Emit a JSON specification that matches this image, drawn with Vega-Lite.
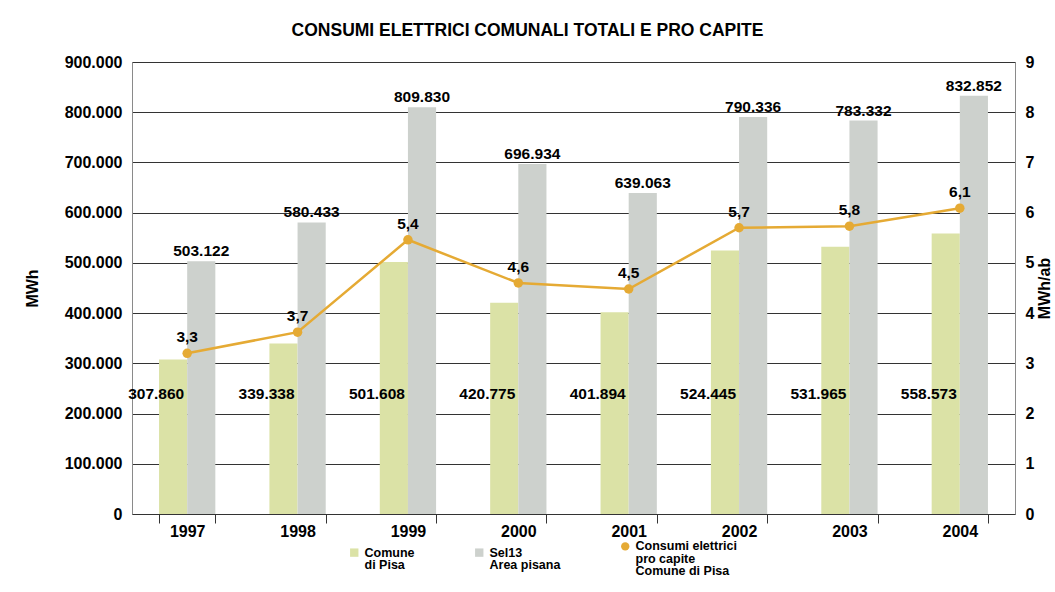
{
  "$schema": "https://vega.github.io/schema/vega-lite/v6.json",
  "width": 883,
  "height": 452,
  "autosize": {"type": "none"},
  "padding": {"left": 132, "top": 62, "right": 40, "bottom": 78},
  "background": "white",
  "title": {
    "text": "CONSUMI ELETTRICI COMUNALI TOTALI E PRO CAPITE",
    "font": "Liberation Sans",
    "fontSize": 17.5,
    "fontWeight": "bold",
    "color": "#000",
    "anchor": "middle",
    "dx": -46,
    "offset": 15
  },
  "config": {
    "locale": {"number": {"decimal": ",", "thousands": ".", "grouping": [3], "currency": ["", " €"]}},
    "font": "Liberation Sans",
    "view": {"stroke": "#8a8a8a", "strokeWidth": 1},
    "axis": {
      "labelFont": "Liberation Sans",
      "labelFontSize": 16,
      "labelFontWeight": "bold",
      "labelColor": "#000",
      "titleFont": "Liberation Sans",
      "titleFontSize": 16,
      "titleFontWeight": "bold",
      "titleColor": "#000",
      "domainColor": "#8a8a8a"
    },
    "axisX": {
      "grid": false,
      "tickBand": "extent",
      "labelAngle": 0,
      "tickSize": 9,
      "tickColor": "#333",
      "domainColor": "#333",
      "labelPadding": 0
    },
    "axisY": {"ticks": false, "labelPadding": 10, "gridColor": "#333", "gridWidth": 1}
  },
  "datasets": {
    "consumi": [
      {"anno": "1997", "serie": "Comune di Pisa", "mwh": 307860},
      {"anno": "1997", "serie": "Sel13 Area pisana", "mwh": 503122},
      {"anno": "1998", "serie": "Comune di Pisa", "mwh": 339338},
      {"anno": "1998", "serie": "Sel13 Area pisana", "mwh": 580433},
      {"anno": "1999", "serie": "Comune di Pisa", "mwh": 501608},
      {"anno": "1999", "serie": "Sel13 Area pisana", "mwh": 809830},
      {"anno": "2000", "serie": "Comune di Pisa", "mwh": 420775},
      {"anno": "2000", "serie": "Sel13 Area pisana", "mwh": 696934},
      {"anno": "2001", "serie": "Comune di Pisa", "mwh": 401894},
      {"anno": "2001", "serie": "Sel13 Area pisana", "mwh": 639063},
      {"anno": "2002", "serie": "Comune di Pisa", "mwh": 524445},
      {"anno": "2002", "serie": "Sel13 Area pisana", "mwh": 790336},
      {"anno": "2003", "serie": "Comune di Pisa", "mwh": 531965},
      {"anno": "2003", "serie": "Sel13 Area pisana", "mwh": 783332},
      {"anno": "2004", "serie": "Comune di Pisa", "mwh": 558573},
      {"anno": "2004", "serie": "Sel13 Area pisana", "mwh": 832852}
    ],
    "procapite": [
      {"anno": "1997", "pc": 3.2, "etichetta": "3,3"},
      {"anno": "1998", "pc": 3.62, "etichetta": "3,7"},
      {"anno": "1999", "pc": 5.46, "etichetta": "5,4"},
      {"anno": "2000", "pc": 4.6, "etichetta": "4,6"},
      {"anno": "2001", "pc": 4.48, "etichetta": "4,5"},
      {"anno": "2002", "pc": 5.7, "etichetta": "5,7"},
      {"anno": "2003", "pc": 5.73, "etichetta": "5,8"},
      {"anno": "2004", "pc": 6.09, "etichetta": "6,1"}
    ]
  },
  "resolve": {"scale": {"y": "independent"}, "axis": {"y": "independent"}},
  "layer": [
    {
      "data": {"name": "consumi"},
      "layer": [
        {
          "mark": {"type": "bar"},
          "encoding": {
            "x": {
              "field": "anno",
              "type": "nominal",
              "scale": {"paddingInner": 0.49, "paddingOuter": 0.245},
              "axis": {"title": null}
            },
            "xOffset": {
              "field": "serie",
              "type": "nominal",
              "scale": {"domain": ["Comune di Pisa", "Sel13 Area pisana"], "paddingInner": 0, "paddingOuter": 0}
            },
            "y": {
              "field": "mwh",
              "type": "quantitative",
              "scale": {"domain": [0, 900000]},
              "axis": {
                "title": "MWh",
                "values": [0, 100000, 200000, 300000, 400000, 500000, 600000, 700000, 800000, 900000],
                "format": ",.0f",
                "grid": true,
                "titlePadding": 24
              }
            },
            "color": {
              "field": "serie",
              "type": "nominal",
              "scale": {
                "domain": ["Comune di Pisa", "Sel13 Area pisana", "Consumi elettrici pro capite Comune di Pisa"],
                "range": ["#dbe2a6", "#cdd1cd", "#e5aa34"]
              },
              "legend": {
                "orient": "none",
                "legendX": 216,
                "legendY": 478,
                "direction": "horizontal",
                "title": null,
                "symbolType": "square",
                "symbolSize": 70,
                "symbolStrokeWidth": 0,
                "symbolOpacity": 1,
                "labelFont": "Liberation Sans",
                "labelFontSize": 12.5,
                "labelFontWeight": "bold",
                "labelColor": "#000",
                "labelBaseline": "top",
                "labelOffset": 4,
                "labelLimit": 0,
                "columnPadding": 58,
                "padding": 0,
                "labelExpr": "datum.label == 'Comune di Pisa' ? ['Comune', 'di Pisa'] : datum.label == 'Sel13 Area pisana' ? ['Sel13', 'Area pisana'] : ['Consumi elettrici', 'pro capite', 'Comune di Pisa']",
                "encode": {
                  "symbols": {"update": {"shape": {"signal": "datum.value == 'Consumi elettrici pro capite Comune di Pisa' ? 'circle' : 'square'"}}},
                  "labels": {"update": {"dy": {"value": -6}, "lineHeight": {"value": 12.5}}}
                }
              }
            }
          }
        },
        {
          "transform": [{"filter": "datum.serie == 'Sel13 Area pisana'"}],
          "mark": {"type": "text", "baseline": "alphabetic", "dy": -5, "fontSize": 15.5, "fontWeight": "bold", "color": "#000"},
          "encoding": {
            "x": {"field": "anno", "type": "nominal", "axis": {"title": null}},
            "xOffset": {"field": "serie", "type": "nominal"},
            "y": {"field": "mwh", "type": "quantitative"},
            "text": {"field": "mwh", "type": "quantitative", "format": ",.0f"}
          }
        },
        {
          "transform": [{"filter": "datum.serie == 'Comune di Pisa'"}],
          "mark": {"type": "text", "baseline": "middle", "align": "right", "dx": -3, "fontSize": 15.5, "fontWeight": "bold", "color": "#000"},
          "encoding": {
            "x": {"field": "anno", "type": "nominal", "axis": {"title": null}},
            "y": {"datum": 238000},
            "text": {"field": "mwh", "type": "quantitative", "format": ",.0f"}
          }
        }
      ]
    },
    {
      "data": {"name": "procapite"},
      "layer": [
        {
          "mark": {
            "type": "line",
            "color": "#e5aa34",
            "strokeWidth": 2.5,
            "point": {"filled": true, "size": 90, "color": "#e5aa34", "opacity": 1}
          },
          "encoding": {
            "x": {"field": "anno", "type": "nominal", "axis": {"title": null}},
            "y": {
              "field": "pc",
              "type": "quantitative",
              "scale": {"domain": [0, 9]},
              "axis": {
                "orient": "right",
                "title": "MWh/ab",
                "titleAngle": 270,
                "titlePadding": 19,
                "values": [0, 1, 2, 3, 4, 5, 6, 7, 8, 9],
                "format": "d",
                "grid": false
              }
            }
          }
        },
        {
          "mark": {"type": "text", "baseline": "alphabetic", "dy": -11, "fontSize": 15.5, "fontWeight": "bold", "color": "#000"},
          "encoding": {
            "x": {"field": "anno", "type": "nominal", "axis": {"title": null}},
            "y": {"field": "pc", "type": "quantitative"},
            "text": {"field": "etichetta", "type": "nominal"}
          }
        }
      ]
    }
  ]
}
